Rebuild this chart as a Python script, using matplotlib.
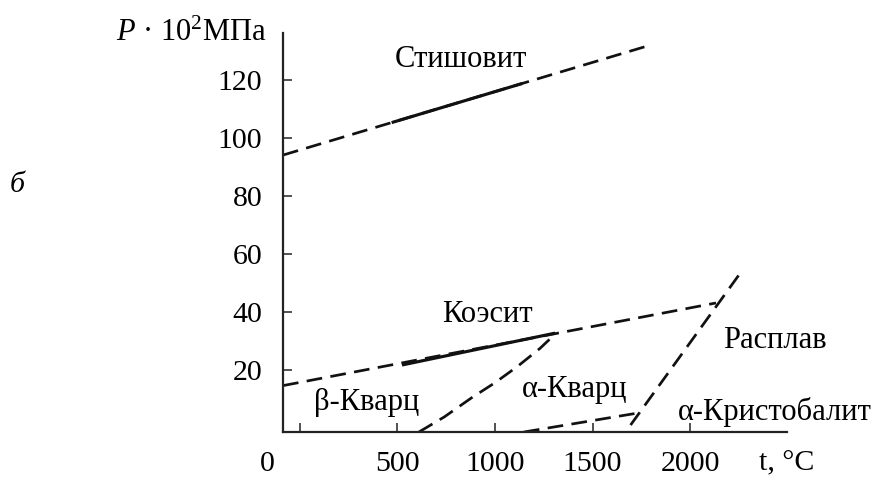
import matplotlib
matplotlib.use("Agg")
import matplotlib.pyplot as plt
from matplotlib.transforms import ScaledTranslation

plt.rcParams['font.family'] = ['Liberation Serif', 'DejaVu Serif']
plt.rcParams['mathtext.fontset'] = 'custom'
plt.rcParams['mathtext.rm'] = 'Liberation Serif'
plt.rcParams['mathtext.it'] = 'Liberation Serif:italic'

# --- phase boundaries (t in °C, P in 10^2 MPa) ---
stish_t = [-87, 1795]
stish_p = [94.1, 132.0]
stish_solid_t = [470, 1140]
stish_solid_p = [105.3, 118.8]

coes_t = [-87, 2133]
coes_p = [14.6, 43.1]
coes_solid_t = [523, 1308]
coes_solid_p = [21.7, 32.7]

quartz_t = [610, 740, 880, 1000, 1115, 1230, 1310]
quartz_p = [-1.4, 3.8, 10.4, 15.6, 21.2, 27.4, 32.5]

crist_t = [1148, 1720]
crist_p = [-1.4, 5.0]

melt_t = [1695, 2251]
melt_p = [1.0, 52.8]

x_ticks = [0, 500, 1000, 1500, 2000]
y_ticks = [20, 40, 60, 80, 100, 120]

W, H = 881, 479
fig = plt.figure(figsize=(W / 100, H / 100), dpi=100)
ax = fig.add_axes([283 / W, 1 - 432 / H, (787 - 283) / W, (432 - 33) / H])
ax.set_xlim(-87, 2497)
ax.set_ylim(-1.4, 136.2)

ink = '#111111'
dash = (0, (5.8, 3.1))
lw = 1.95

ax.plot(stish_t, stish_p, color=ink, lw=lw, ls=dash)
ax.plot(stish_solid_t, stish_solid_p, color=ink, lw=lw + 0.3, solid_capstyle='butt')
ax.plot(coes_t, coes_p, color=ink, lw=lw, ls=dash)
ax.plot(coes_solid_t, coes_solid_p, color=ink, lw=lw + 0.3, solid_capstyle='butt')
ax.plot(quartz_t, quartz_p, color=ink, lw=lw, ls=dash)
ax.plot(crist_t, crist_p, color=ink, lw=lw, ls=dash)
ax.plot(melt_t, melt_p, color=ink, lw=lw, ls=dash)

for s in ['top', 'right']:
    ax.spines[s].set_visible(False)
for s in ['left', 'bottom']:
    ax.spines[s].set_linewidth(1.6)
    ax.spines[s].set_color('#222222')

ax.set_xticks(x_ticks)
ax.set_xticklabels([str(v) for v in x_ticks])
ax.set_yticks(y_ticks)
ax.set_yticklabels([str(v) for v in y_ticks])
ax.tick_params(direction='in', length=6.5, width=1.1, color='#222222',
               labelsize=21.5, pad=14)
ax.tick_params(axis='y', pad=15)

# the "0" label sits left of the origin in the original
lab0 = ax.get_xticklabels()[0]
lab0.set_transform(lab0.get_transform() + ScaledTranslation(-0.33, 0, fig.dpi_scale_trans))

fs = 22
ax.text(826, 124.5, 'Стишовит', fontsize=fs, ha='center', va='baseline')
ax.text(959, 36.6, 'Коэсит', fontsize=fs, ha='center', va='baseline')
ax.text(2436, 27.6, 'Расплав', fontsize=fs, ha='center', va='baseline', clip_on=False)
ax.text(344, 6.2, 'β-Кварц', fontsize=fs, ha='center', va='baseline')
ax.text(1410, 10.7, 'α-Кварц', fontsize=fs, ha='center', va='baseline')
ax.text(2436, 2.8, 'α-Кристобалит', fontsize=fs, ha='center', va='baseline', clip_on=False)

fig.text(267 / W, 1 - 33 / H, r'$P$ · 10$^{2}$МПа', fontsize=22, ha='right', va='center')
fig.text(17 / W, 1 - 185 / H, 'б', fontsize=21.5, style='italic', ha='center', va='center')
fig.text(787 / W, 1 - 463 / H, 't, °C', fontsize=21.5, ha='center', va='center')

fig.savefig('out.png', dpi=100)
